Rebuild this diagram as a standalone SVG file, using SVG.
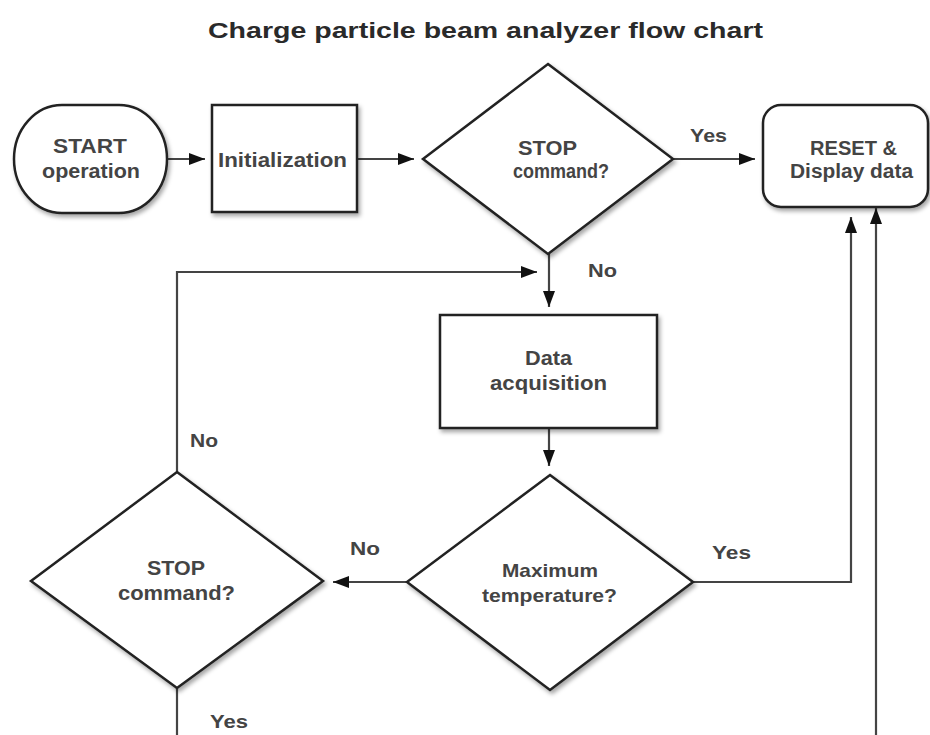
<svg xmlns="http://www.w3.org/2000/svg" width="930" height="735" viewBox="0 0 930 735">
<style>
.shape{fill:#fff;stroke:#222;stroke-width:2.5;filter:url(#sh)}
.conn{fill:none;stroke:#444;stroke-width:2.2}
.t{font-family:"Liberation Sans",Arial,sans-serif;font-weight:bold;fill:#444;font-size:20px}
.s{font-size:19px}
.title{font-size:22px;fill:#2a2a2a}
</style>
<defs>
<filter id="sh" x="-10%" y="-10%" width="125%" height="125%">
<feDropShadow dx="2" dy="3" stdDeviation="2" flood-color="#000" flood-opacity="0.35"/>
</filter>
<marker id="ah" markerUnits="userSpaceOnUse" markerWidth="17" markerHeight="13" refX="16" refY="6" orient="auto">
<path d="M0,0 L16,6 L0,12 z" fill="#111"/>
</marker>
</defs>
<rect width="930" height="735" fill="#fff"/>
<text class="t title" x="208" y="38" textLength="555" lengthAdjust="spacingAndGlyphs">Charge particle beam analyzer flow chart</text>

<g id="connectors">
<line class="conn" x1="167" y1="159" x2="205" y2="159" marker-end="url(#ah)"/>
<line class="conn" x1="357" y1="159" x2="414" y2="159" marker-end="url(#ah)"/>
<line class="conn" x1="673" y1="159" x2="755" y2="159" marker-end="url(#ah)"/>
<line class="conn" x1="549" y1="254" x2="549" y2="307" marker-end="url(#ah)"/>
<polyline class="conn" points="177,472 177,272 537,272" marker-end="url(#ah)"/>
<line class="conn" x1="549" y1="428" x2="549" y2="466" marker-end="url(#ah)"/>
<line class="conn" x1="407" y1="582" x2="333" y2="582" marker-end="url(#ah)"/>
<polyline class="conn" points="693,582 851,582 851,217" marker-end="url(#ah)"/>
<line class="conn" x1="876" y1="735" x2="876" y2="208" marker-end="url(#ah)"/>
<line class="conn" x1="177" y1="688" x2="177" y2="735"/>
<text class="t s" x="690" y="142" textLength="37" lengthAdjust="spacingAndGlyphs">Yes</text>
<text class="t s" x="588" y="277" textLength="29" lengthAdjust="spacingAndGlyphs">No</text>
<text class="t s" x="190" y="447" textLength="28" lengthAdjust="spacingAndGlyphs">No</text>
<text class="t s" x="350" y="555" textLength="30" lengthAdjust="spacingAndGlyphs">No</text>
<text class="t s" x="712" y="559" textLength="39" lengthAdjust="spacingAndGlyphs">Yes</text>
<text class="t s" x="210" y="728" textLength="38" lengthAdjust="spacingAndGlyphs">Yes</text>
</g>

<g id="start">
<rect class="shape" x="14" y="105" width="153" height="108" rx="48" ry="54"/>
<text class="t" x="53" y="153" textLength="74" lengthAdjust="spacingAndGlyphs">START</text>
<text class="t" x="42" y="178" textLength="98" lengthAdjust="spacingAndGlyphs">operation</text>
</g>

<g id="init">
<rect class="shape" x="212" y="105" width="145" height="107"/>
<text class="t" x="218" y="167" textLength="129" lengthAdjust="spacingAndGlyphs">Initialization</text>
</g>

<g id="stop1">
<polygon class="shape" points="548,64 673,159 548,254 423,159"/>
<text class="t" x="518" y="155" textLength="59" lengthAdjust="spacingAndGlyphs">STOP</text>
<text class="t" x="513" y="178" font-size="18" textLength="96" lengthAdjust="spacingAndGlyphs">command?</text>
</g>

<g id="reset">
<rect class="shape" x="763" y="105" width="165" height="102" rx="18"/>
<text class="t" x="810" y="155" textLength="87" lengthAdjust="spacingAndGlyphs">RESET &amp;</text>
<text class="t" x="790" y="178" textLength="123" lengthAdjust="spacingAndGlyphs">Display data</text>
</g>

<g id="acq">
<rect class="shape" x="440" y="315" width="217" height="113"/>
<text class="t" x="525" y="365" textLength="47" lengthAdjust="spacingAndGlyphs">Data</text>
<text class="t" x="490" y="390" textLength="117" lengthAdjust="spacingAndGlyphs">acquisition</text>
</g>

<g id="maxtemp">
<polygon class="shape" points="550,475 693,582 550,690 407,582"/>
<text class="t s" x="502" y="577" textLength="96" lengthAdjust="spacingAndGlyphs">Maximum</text>
<text class="t s" x="482" y="602" textLength="135" lengthAdjust="spacingAndGlyphs">temperature?</text>
</g>

<g id="stop2">
<polygon class="shape" points="177,472 323,581 177,688 31,581"/>
<text class="t" x="147" y="575" textLength="58" lengthAdjust="spacingAndGlyphs">STOP</text>
<text class="t" x="118" y="600" textLength="117" lengthAdjust="spacingAndGlyphs">command?</text>
</g>
</svg>
